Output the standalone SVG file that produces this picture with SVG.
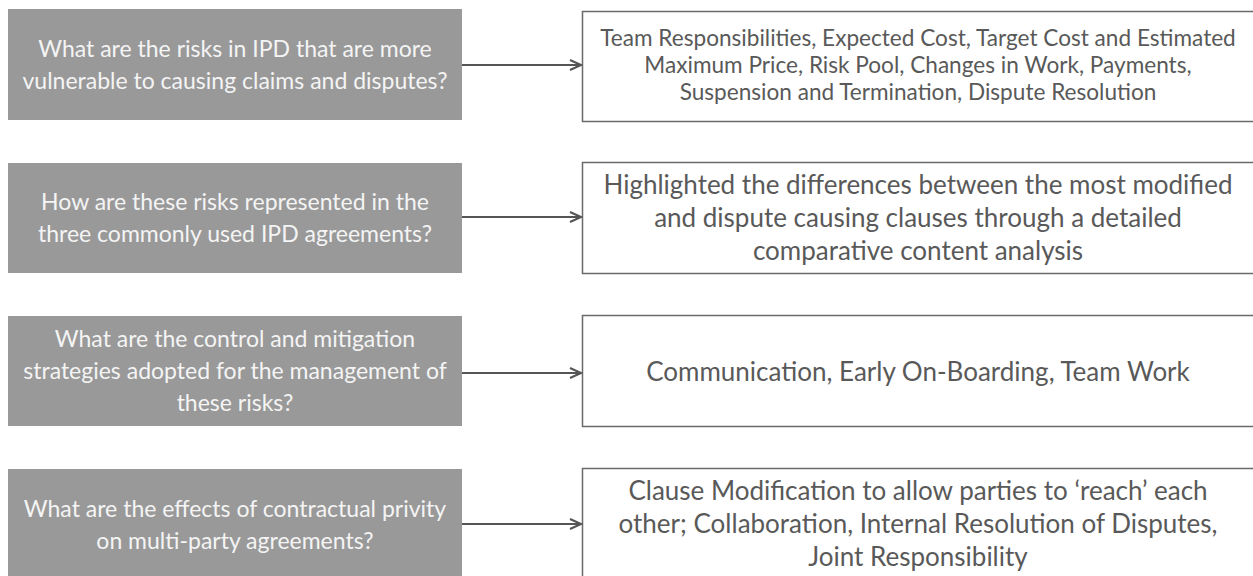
<svg xmlns="http://www.w3.org/2000/svg" width="1253" height="576" viewBox="0 0 1253 576">
  <defs>
    <style>
      .q rect { fill: #999999; }
      .q text { fill: #f4f4f4; font-family: "Lato", "Liberation Sans", sans-serif; font-size: 23px; text-anchor: middle; }
      .a rect { fill: #ffffff; stroke: #6a6a6a; stroke-width: 1.5; }
      .a text { fill: #595959; font-family: "Lato", "Liberation Sans", sans-serif; font-size: 26px; text-anchor: middle; }
      .a.small text { font-size: 22.6px; }
      .links line { stroke: #555555; stroke-width: 2; marker-end: url(#chev); }
    </style>
    <marker id="chev" markerUnits="userSpaceOnUse" markerWidth="14" markerHeight="14" refX="12" refY="6" orient="auto" viewBox="0 0 14 12">
      <path d="M1,1 L12,6 L1,11" fill="none" stroke="#555555" stroke-width="2"/>
    </marker>
  </defs>

  <rect width="1253" height="576" fill="#ffffff"/>

  <!-- question boxes -->
  <g id="q1" class="q">
    <rect x="8" y="9" width="454" height="111"/>
    <text x="235" y="57">What are the risks in IPD that are more</text>
    <text x="235" y="89">vulnerable to causing claims and disputes?</text>
  </g>
  <g id="q2" class="q">
    <rect x="8" y="163" width="454" height="110"/>
    <text x="235" y="210">How are these risks represented in the</text>
    <text x="235" y="242">three commonly used IPD agreements?</text>
  </g>
  <g id="q3" class="q">
    <rect x="8" y="316" width="454" height="110"/>
    <text x="235" y="347">What are the control and mitigation</text>
    <text x="235" y="379">strategies adopted for the management of</text>
    <text x="235" y="411">these risks?</text>
  </g>
  <g id="q4" class="q">
    <rect x="8" y="469" width="454" height="112"/>
    <text x="235" y="517">What are the effects of contractual privity</text>
    <text x="235" y="549">on multi-party agreements?</text>
  </g>

  <!-- answer boxes -->
  <g id="a1" class="a small">
    <rect x="582.5" y="11.5" width="680" height="110"/>
    <text x="918" y="46">Team Responsibilities, Expected Cost, Target Cost and Estimated</text>
    <text x="918" y="73">Maximum Price, Risk Pool, Changes in Work, Payments,</text>
    <text x="918" y="100">Suspension and Termination, Dispute Resolution</text>
  </g>
  <g id="a2" class="a">
    <rect x="582.5" y="162.5" width="680" height="111"/>
    <text x="918" y="194">Highlighted the differences between the most modified</text>
    <text x="918" y="227">and dispute causing clauses through a detailed</text>
    <text x="918" y="260">comparative content analysis</text>
  </g>
  <g id="a3" class="a">
    <rect x="582.5" y="315.5" width="680" height="111"/>
    <text x="918" y="381">Communication, Early On-Boarding, Team Work</text>
  </g>
  <g id="a4" class="a">
    <rect x="582.5" y="468.5" width="680" height="120"/>
    <text x="918" y="500">Clause Modification to allow parties to ‘reach’ each</text>
    <text x="918" y="533">other; Collaboration, Internal Resolution of Disputes,</text>
    <text x="918" y="566">Joint Responsibility</text>
  </g>

  <!-- connectors -->
  <g id="links" class="links">
    <line x1="462" y1="65" x2="581" y2="65"/>
    <line x1="462" y1="217" x2="581" y2="217"/>
    <line x1="462" y1="373" x2="581" y2="373"/>
    <line x1="462" y1="524" x2="581" y2="524"/>
  </g>
</svg>
